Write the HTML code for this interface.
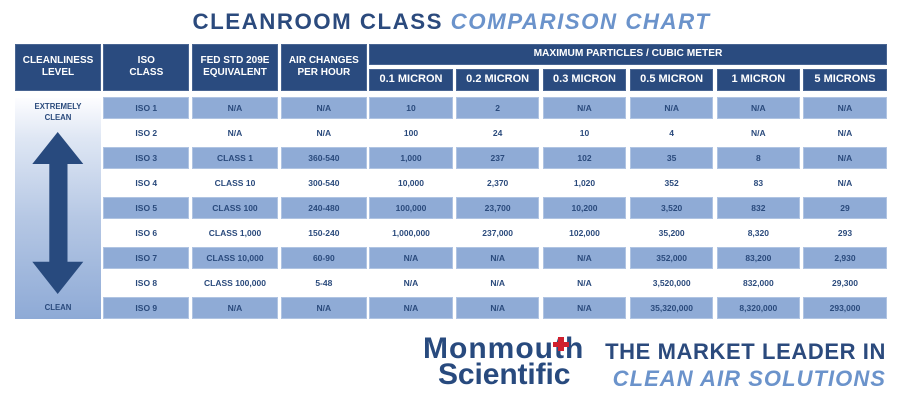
<!DOCTYPE html>
<html><head><meta charset="utf-8">
<style>
*{margin:0;padding:0;box-sizing:border-box}
html,body{width:903px;height:403px;background:#fff;overflow:hidden;position:relative;font-family:"Liberation Sans",Arial,sans-serif;font-weight:bold}
.a{position:absolute}
.title{left:0;width:903px;top:11px;text-align:center;font-size:22.3px;line-height:22px;letter-spacing:1.5px;color:#2b4a7d;white-space:nowrap}
.title i{color:#6b93cb;font-style:italic}
.h{position:absolute;background:#2a4b7f;color:#fff;text-align:center;display:flex;align-items:center;justify-content:center;font-size:10px;line-height:12.7px;box-shadow:inset 0 0 0 1px rgba(255,255,255,0.15);white-space:nowrap}
.sub{font-size:11px}
.r{position:absolute;left:0;width:903px;height:22.3px}
.r div{position:absolute;top:0;height:22.3px;line-height:22.3px;text-align:center;font-size:8.5px;color:#2a4a7c;white-space:nowrap}
.s div{background:#8fabd6;box-shadow:inset 0 0 0 1px rgba(255,255,255,0.3)}
.k2{left:103.3px;width:86px}
.k3{left:191.7px;width:86.6px}
.k4{left:280.7px;width:86.3px}
.k5{left:369.3px;width:83.4px}
.k6{left:456px;width:83.3px}
.k7{left:543px;width:83px}
.k8{left:630px;width:83.3px}
.k9{left:716.7px;width:83.3px}
.k10{left:803.3px;width:83.4px}
.grad{left:15px;top:97.5px;width:86px;height:221.5px;background:linear-gradient(to bottom,#fdfdff 0%,#dfe7f4 18%,#b5c7e4 55%,#8eaad6 100%)}
.lbl{position:absolute;left:15px;width:86px;text-align:center;font-size:7.8px;color:#2a4a7c;line-height:10.5px}
.foot1{left:423px;top:333.6px;font-size:30px;line-height:30px;color:#284a7e;letter-spacing:1px}
.foot2{left:438px;top:359.6px;font-size:30px;line-height:30px;color:#284a7e;letter-spacing:-0.1px}
.tag1{right:17px;top:340.7px;font-size:22px;line-height:22px;color:#2b4a7d;letter-spacing:0.6px;white-space:nowrap}
.tag2{right:17px;top:368px;font-size:22px;line-height:22px;color:#6b93cb;font-style:italic;letter-spacing:1.05px;white-space:nowrap}
</style></head>
<body>
<div class="a title">CLEANROOM CLASS <i>COMPARISON CHART</i></div>

<div class="h" style="left:15px;top:44px;width:86px;height:46.7px">CLEANLINESS<br>LEVEL</div>
<div class="h" style="left:103.3px;top:44px;width:86px;height:46.7px">ISO<br>CLASS</div>
<div class="h" style="left:191.7px;top:44px;width:86.6px;height:46.7px">FED STD 209E<br>EQUIVALENT</div>
<div class="h" style="left:280.7px;top:44px;width:86.3px;height:46.7px">AIR CHANGES<br>PER HOUR</div>
<div class="h" style="left:369.3px;top:44px;width:517.4px;height:21px;font-size:10.2px">MAXIMUM PARTICLES / CUBIC METER</div>
<div class="h sub" style="left:369.3px;top:69px;width:83.4px;height:21.7px">0.1 MICRON</div>
<div class="h sub" style="left:456px;top:69px;width:83.3px;height:21.7px">0.2 MICRON</div>
<div class="h sub" style="left:543px;top:69px;width:83px;height:21.7px">0.3 MICRON</div>
<div class="h sub" style="left:630px;top:69px;width:83.3px;height:21.7px">0.5 MICRON</div>
<div class="h sub" style="left:716.7px;top:69px;width:83.3px;height:21.7px">1 MICRON</div>
<div class="h sub" style="left:803.3px;top:69px;width:83.4px;height:21.7px">5 MICRONS</div>

<div class="a grad"></div>
<div class="lbl" style="top:102px">EXTREMELY<br>CLEAN</div>
<div class="lbl" style="top:303px">CLEAN</div>
<svg class="a" style="left:0;top:0" width="120" height="330" viewBox="0 0 120 330">
<polygon fill="#284a7e" points="57.7,132 83.3,164 67.5,164 67.5,261.7 83.3,261.7 57.7,294 32.3,261.7 49.3,261.7 49.3,164 32.3,164"/>
</svg>

<div class="r s" style="top:96.7px"><div class="k2">ISO 1</div><div class="k3">N/A</div><div class="k4">N/A</div><div class="k5">10</div><div class="k6">2</div><div class="k7">N/A</div><div class="k8">N/A</div><div class="k9">N/A</div><div class="k10">N/A</div></div>
<div class="r" style="top:121.7px"><div class="k2">ISO 2</div><div class="k3">N/A</div><div class="k4">N/A</div><div class="k5">100</div><div class="k6">24</div><div class="k7">10</div><div class="k8">4</div><div class="k9">N/A</div><div class="k10">N/A</div></div>
<div class="r s" style="top:146.7px"><div class="k2">ISO 3</div><div class="k3">CLASS 1</div><div class="k4">360-540</div><div class="k5">1,000</div><div class="k6">237</div><div class="k7">102</div><div class="k8">35</div><div class="k9">8</div><div class="k10">N/A</div></div>
<div class="r" style="top:171.7px"><div class="k2">ISO 4</div><div class="k3">CLASS 10</div><div class="k4">300-540</div><div class="k5">10,000</div><div class="k6">2,370</div><div class="k7">1,020</div><div class="k8">352</div><div class="k9">83</div><div class="k10">N/A</div></div>
<div class="r s" style="top:196.7px"><div class="k2">ISO 5</div><div class="k3">CLASS 100</div><div class="k4">240-480</div><div class="k5">100,000</div><div class="k6">23,700</div><div class="k7">10,200</div><div class="k8">3,520</div><div class="k9">832</div><div class="k10">29</div></div>
<div class="r" style="top:221.7px"><div class="k2">ISO 6</div><div class="k3">CLASS 1,000</div><div class="k4">150-240</div><div class="k5">1,000,000</div><div class="k6">237,000</div><div class="k7">102,000</div><div class="k8">35,200</div><div class="k9">8,320</div><div class="k10">293</div></div>
<div class="r s" style="top:246.7px"><div class="k2">ISO 7</div><div class="k3">CLASS 10,000</div><div class="k4">60-90</div><div class="k5">N/A</div><div class="k6">N/A</div><div class="k7">N/A</div><div class="k8">352,000</div><div class="k9">83,200</div><div class="k10">2,930</div></div>
<div class="r" style="top:271.7px"><div class="k2">ISO 8</div><div class="k3">CLASS 100,000</div><div class="k4">5-48</div><div class="k5">N/A</div><div class="k6">N/A</div><div class="k7">N/A</div><div class="k8">3,520,000</div><div class="k9">832,000</div><div class="k10">29,300</div></div>
<div class="r s" style="top:296.7px"><div class="k2">ISO 9</div><div class="k3">N/A</div><div class="k4">N/A</div><div class="k5">N/A</div><div class="k6">N/A</div><div class="k7">N/A</div><div class="k8">35,320,000</div><div class="k9">8,320,000</div><div class="k10">293,000</div></div>

<div class="a foot1">Monmouth</div>
<div class="a foot2">Scientific</div>
<div class="a" style="left:558px;top:337px;width:6px;height:14px;background:#d0202e"></div>
<div class="a" style="left:553px;top:342px;width:16px;height:5px;background:#d0202e"></div>
<div class="a tag1">THE MARKET LEADER IN</div>
<div class="a tag2">CLEAN AIR SOLUTIONS</div>
</body></html>
